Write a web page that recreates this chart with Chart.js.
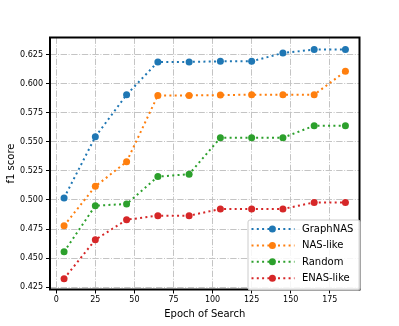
<!DOCTYPE html>
<html>
<head>
<meta charset="utf-8">
<script src="https://cdn.jsdelivr.net/npm/chart.js@4.4.0/dist/chart.umd.min.js"></script>
<style>
  html, body { margin: 0; padding: 0; background: #fff; }
  #wrap { width: 399px; height: 326px; }
</style>
</head>
<body>
<div id="wrap"><canvas id="c" width="399" height="326"></canvas></div>
<script>
const epochs   = [5, 25, 45, 65, 85, 105, 125, 145, 165, 185];
const graphNAS = [0.5017, 0.5543, 0.5905, 0.6187, 0.6187, 0.6192, 0.6192, 0.6264, 0.6293, 0.6293];
const nasLike  = [0.4779, 0.5117, 0.5328, 0.5899, 0.5899, 0.5902, 0.5905, 0.5905, 0.5905, 0.6106];
const randomS  = [0.4554, 0.4951, 0.4965, 0.5201, 0.5221, 0.5535, 0.5535, 0.5535, 0.5638, 0.5638];
const enasLike = [0.4323, 0.4658, 0.4830, 0.4865, 0.4865, 0.4922, 0.4922, 0.4922, 0.4979, 0.4979];
const seriesNames = ['GraphNAS', 'NAS-like', 'Random', 'ENAS-like'];
const xTicks = [0, 25, 50, 75, 100, 125, 150, 175];
const yTicks = [0.425, 0.450, 0.475, 0.500, 0.525, 0.550, 0.575, 0.600, 0.625];

const colors = ['#1f77b4', '#ff7f0e', '#2ca02c', '#d62728'];
const seriesData = [graphNAS, nasLike, randomS, enasLike];
const DOT = [2, 3.3];

Chart.defaults.font.family = "'DejaVu Sans', sans-serif";
Chart.defaults.color = '#000';

const datasets = seriesData.map((vals, i) => ({
  label: seriesNames[i],
  data: epochs.map((e, j) => ({x: e, y: vals[j]})),
  borderColor: colors[i],
  backgroundColor: colors[i],
  borderWidth: 2,
  borderDash: DOT,
  borderCapStyle: 'butt',
  pointRadius: 3.5,
  pointHoverRadius: 3.5,
  pointBorderWidth: 0,
  pointBackgroundColor: colors[i],
  tension: 0,
  fill: false
}));

const framePlugin = {
  id: 'frameAndLegend',
  afterDraw(chart) {
    const {ctx, chartArea: a} = chart;
    ctx.save();
    ctx.strokeStyle = '#000';
    ctx.lineWidth = 2;
    ctx.setLineDash([]);
    ctx.strokeRect(a.left, a.top, a.right - a.left, a.bottom - a.top);

    // legend
    const w = 112, h = 70;
    const bx = a.right + 0.5 - w, by = a.bottom + 0.5 - h;
    ctx.beginPath();
    const r = 2;
    ctx.moveTo(bx + r, by);
    ctx.lineTo(bx + w - r, by); ctx.quadraticCurveTo(bx + w, by, bx + w, by + r);
    ctx.lineTo(bx + w, by + h - r); ctx.quadraticCurveTo(bx + w, by + h, bx + w - r, by + h);
    ctx.lineTo(bx + r, by + h); ctx.quadraticCurveTo(bx, by + h, bx, by + h - r);
    ctx.lineTo(bx, by + r); ctx.quadraticCurveTo(bx, by, bx + r, by);
    ctx.closePath();
    ctx.fillStyle = 'rgba(255,255,255,0.85)';
    ctx.fill();
    ctx.strokeStyle = '#cccccc';
    ctx.lineWidth = 1;
    ctx.stroke();

    chart.data.datasets.forEach((ds, i) => {
      const cy = by + 9 + i * 16.4;
      ctx.strokeStyle = ds.borderColor;
      ctx.lineWidth = 2;
      ctx.setLineDash(DOT);
      ctx.beginPath();
      ctx.moveTo(bx + 3.5, cy);
      ctx.lineTo(bx + 46.5, cy);
      ctx.stroke();
      ctx.setLineDash([]);
      ctx.fillStyle = ds.borderColor;
      ctx.beginPath();
      ctx.arc(bx + 24.4, cy, 3.5, 0, Math.PI * 2);
      ctx.fill();
      ctx.fillStyle = '#000';
      ctx.font = "10px 'DejaVu Sans', sans-serif";
      ctx.textBaseline = 'middle';
      ctx.textAlign = 'left';
      ctx.fillText(ds.label, bx + 54, cy + 0.5);
    });
    ctx.restore();
  }
};

new Chart(document.getElementById('c'), {
  type: 'line',
  data: { datasets },
  plugins: [framePlugin],
  options: {
    responsive: false,
    animation: false,
    events: [],
    layout: { padding: { left: 0, top: 37.5, right: 39.5, bottom: 0 } },
    plugins: { legend: { display: false }, tooltip: { enabled: false } },
    scales: {
      x: {
        type: 'linear',
        min: -4, max: 194,
        afterBuildTicks: s => { s.ticks = xTicks.map(v => ({value: v})); },
        afterFit: s => { s.height = 36.5; },
        ticks: { font: { size: 8 }, padding: 2, maxRotation: 0, autoSkip: false, callback: v => String(v) },
        grid: { color: '#c4c4c4', lineWidth: 1, drawTicks: true, tickLength: 4, tickColor: '#000', tickWidth: 1, tickBorderDash: [] },
        border: { display: false, dash: [6.4, 1.6, 1, 1.6] },
        title: { display: true, text: 'Epoch of Search', font: { size: 10 }, padding: { top: 0, bottom: 6 } }
      },
      y: {
        type: 'linear',
        min: 0.423, max: 0.6397,
        afterBuildTicks: s => { s.ticks = yTicks.map(v => ({value: v})); },
        afterFit: s => { s.width = 50; },
        ticks: { font: { size: 8 }, padding: 3, autoSkip: false, callback: v => Number(v).toFixed(3) },
        grid: { color: '#c4c4c4', lineWidth: 1, drawTicks: true, tickLength: 4, tickColor: '#000', tickWidth: 1, tickBorderDash: [] },
        border: { display: false, dash: [6.4, 1.6, 1, 1.6] },
        title: { display: true, text: 'f1 score', font: { size: 10 }, padding: { top: 5, bottom: 0 } }
      }
    }
  }
});
</script>
</body>
</html>
